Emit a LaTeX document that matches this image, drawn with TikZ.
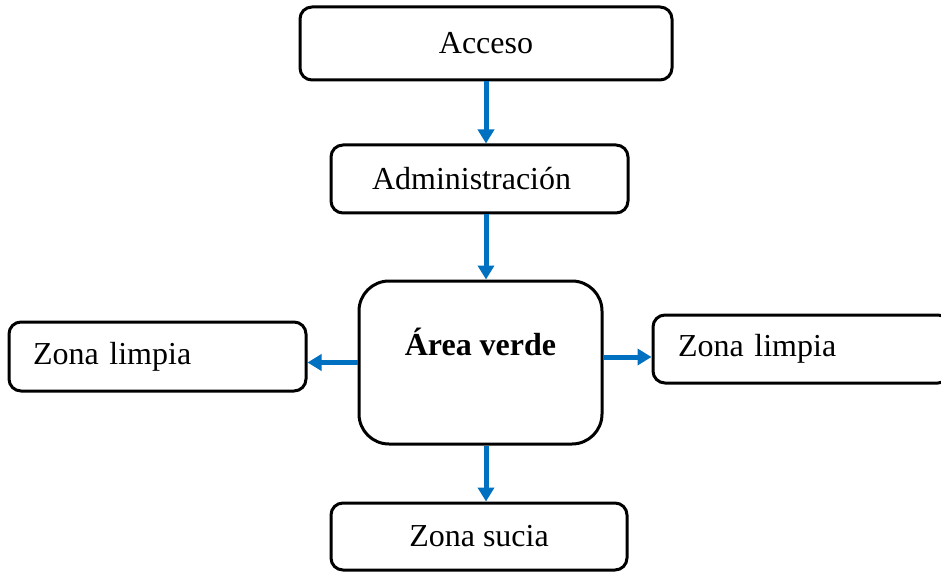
\documentclass[tikz,border=0pt]{standalone}
\usepackage{fontspec}
\setmainfont{Liberation Serif}
\usetikzlibrary{arrows.meta}
\definecolor{azulflecha}{HTML}{0070C0}

\begin{document}
\begin{tikzpicture}[x=0.5pt,y=-0.5pt,
    caja/.style={draw,line width=1.5pt,rounded corners=6pt,inner sep=0pt,
      font=\fontsize{16}{19}\selectfont},
    cajaizq/.style={caja,align=left,inner xsep=12pt,text width=124.5pt},
    flecha/.style={azulflecha,line width=2.5pt,-{Triangle[length=7pt,width=8pt]}}]

    \useasboundingbox (0,0) rectangle (941,572);
    \clip (0,0) rectangle (941,572);

    % cajas
    \node[caja,minimum width=186pt,minimum height=36.5pt] (acceso) at (486,43.5) {Acceso};
    \node[cajaizq,inner xsep=20.5pt,text width=107.5pt,minimum height=34pt] (admin) at (479.5,179) {Administración};
    \node[caja,rounded corners=15pt,minimum width=121.5pt,minimum height=81.5pt,
      label={[anchor=center,yshift=-31pt,font=\fontsize{16}{19}\selectfont\bfseries]north:Área verde}]
      (area) at (480.5,362.5) {};
    \node[cajaizq,minimum height=34.5pt] (limpiaizq) at (157.5,356.5) {Zona limpia};
    \node[cajaizq,inner xsep=12.5pt,text width=123.5pt,minimum height=34pt] (limpiader) at (801.5,349) {Zona limpia};
    \node[caja,minimum width=148pt,minimum height=33.5pt] (sucia) at (479,536.5) {Zona sucia};

    % flechas
    \draw[flecha] (acceso.south) -- (acceso.south |- admin.north);
    \draw[flecha] (admin.south -| acceso.south) -- (area.north -| acceso.south);
    \draw[flecha] (area.west) -- (area.west -| limpiaizq.east);
    \draw[flecha] ([yshift=2.75pt]area.east) -- ([yshift=2.75pt]area.east -| limpiader.west);
    \draw[flecha] (area.south -| acceso.south) -- (sucia.north -| acceso.south);
\end{tikzpicture}
\end{document}
